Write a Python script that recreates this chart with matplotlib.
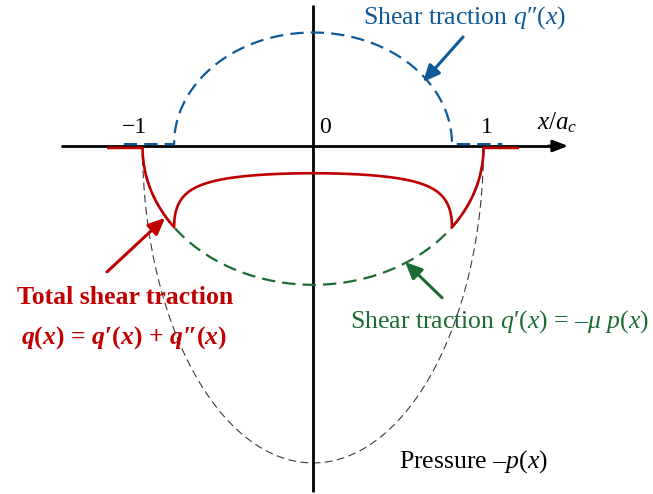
import numpy as np
import matplotlib
matplotlib.use("Agg")
import matplotlib.pyplot as plt

plt.rcParams['font.family'] = ['Liberation Serif', 'DejaVu Serif']
plt.rcParams['mathtext.fontset'] = 'custom'
plt.rcParams['mathtext.rm'] = 'Liberation Serif'
plt.rcParams['mathtext.it'] = 'Liberation Serif:italic'
plt.rcParams['mathtext.bf'] = 'Liberation Serif:bold'
plt.rcParams['mathtext.bfit'] = 'Liberation Serif:bold:italic'

# Contact parameters (normalised by contact half-width a_c and peak pressure p0)
contact_half_width = 1.0
peak_pressure = 1.0
friction_coeff = 0.432
stick_half_width = 0.815
tail_end = 1.2          # flat zero part drawn beyond the contact edge
shear_tail_end = 1.11   # flat zero part of q'' beyond the stick zone

tick_positions = [-1, 0, 1]
tick_labels = ['\u22121', '0', '1']

RED = '#c00000'
GREEN = '#1b6b33'
BLUE = '#0f5a96'
GREY = '#3a3a3a'

fig = plt.figure(figsize=(6.53, 4.94), dpi=100)
ax = fig.add_axes([0, 0, 1, 1])
ax.set_xlim(-1.836, 1.994)
ax.set_ylim(-1.098, 0.4606)
ax.axis('off')

x = np.linspace(-contact_half_width, contact_half_width, 2001)
pressure = peak_pressure * np.sqrt(np.clip(1 - (x / contact_half_width) ** 2, 0, None))
q_slip = -friction_coeff * pressure
xs = np.linspace(-stick_half_width, stick_half_width, 2001)
q_stick = friction_coeff * peak_pressure * (stick_half_width / contact_half_width) * \
    np.sqrt(np.clip(1 - (xs / stick_half_width) ** 2, 0, None))
q_total = q_slip.copy()
inside = np.abs(x) < stick_half_width
q_total[inside] += friction_coeff * peak_pressure * (stick_half_width / contact_half_width) * \
    np.sqrt(1 - (x[inside] / stick_half_width) ** 2)

off = 0.006  # small vertical offsets so the zero parts stay visible beside the axis

# Axes
ax.plot([-1.48, 1.40], [0, 0], color='black', lw=2.0, zorder=3, solid_capstyle='butt')
ax.annotate('', xy=(1.496, 0), xytext=(1.38, 0),
            arrowprops=dict(arrowstyle='-|>,head_length=0.9,head_width=0.35',
                            color='black', lw=2.0, shrinkA=0, shrinkB=0), zorder=3)
ax.plot([0, 0], [0.444, -1.092], color='black', lw=2.0, zorder=3, solid_capstyle='butt')

# Pressure -p(x)
ax.plot(x, -pressure, color=GREY, lw=0.8, dashes=(7, 4), zorder=2)

# Shear traction q'(x) = -mu p(x)
xl = np.concatenate([[-tail_end], x, [tail_end]])
ql = np.concatenate([[0], q_slip, [0]]) - off
ax.plot(xl, ql, color=GREEN, lw=1.6, dashes=(6, 3.2), zorder=4)

# Shear traction q''(x)
xb = np.concatenate([[-shear_tail_end], xs, [shear_tail_end]])
qb = np.concatenate([[0], q_stick, [0]]) + off
ax.plot(xb, qb, color=BLUE, lw=1.6, dashes=(6, 3.2), zorder=4)

# Total shear traction
xr = np.concatenate([[-tail_end], x, [tail_end]])
qr = np.concatenate([[0], q_total, [0]]) - off
ax.plot(xr, qr, color=RED, lw=1.9, zorder=5)

# Tick labels
tick_dx = {-1: -0.05, 0: 0.07, 1: 0.02}
for pos, lab in zip(tick_positions, tick_labels):
    ax.text(pos + tick_dx[pos], 0.057, lab, fontsize=17, ha='center', va='center',
            color='black')
ax.text(1.43, 0.075, r'$x/a_c$', fontsize=18, ha='center', va='center', color='black')

# Labels
FS = 18.5
ax.text(0.89, 0.405, "Shear traction $q$\u2033($x$)", fontsize=FS, color=BLUE,
        ha='center', va='center')
ax.text(1.97, -0.555, "Shear traction $q$\u2032($x$) = \u2013$\\mu$ $p$($x$)", fontsize=FS,
        color=GREEN, ha='right', va='center')
ax.text(1.378, -0.997, "Pressure \u2013$p$($x$)", fontsize=FS, color='black',
        ha='right', va='center')
ax.text(-1.103, -0.479, "Total shear traction", fontsize=FS, color=RED,
        fontweight='bold', ha='center', va='center')
ax.text(-1.108, -0.603,
        "$\\mathbfit{q}$($\\mathbfit{x}$) = $\\mathbfit{q}$\u2032($\\mathbfit{x}$) + "
        "$\\mathbfit{q}$\u2033($\\mathbfit{x}$)",
        fontsize=FS, color=RED, fontweight='bold', ha='center', va='center')

# Pointer arrows
def pointer(tail, tip, color):
    ax.annotate('', xy=tip, xytext=tail,
                arrowprops=dict(arrowstyle='-|>,head_length=1.0,head_width=0.45',
                                color=color, lw=2.2, shrinkA=0, shrinkB=0), zorder=6)

pointer((0.880, 0.344), (0.645, 0.202), BLUE)
pointer((0.757, -0.479), (0.540, -0.366), GREEN)
pointer((-1.208, -0.397), (-0.868, -0.227), RED)

fig.savefig('out.png', dpi=100)
